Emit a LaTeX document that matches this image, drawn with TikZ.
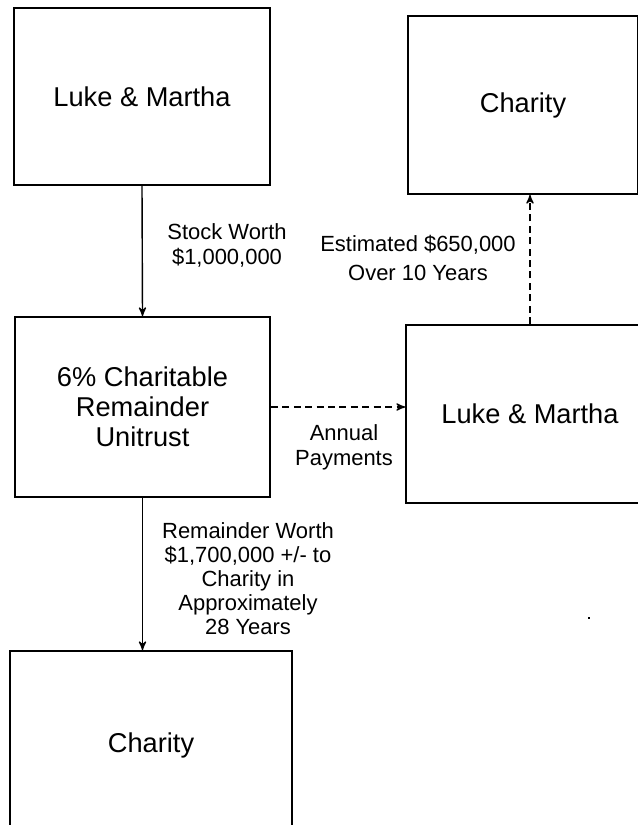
\documentclass[tikz,border=0pt]{standalone}
\usepackage{fontspec}
\setmainfont{Liberation Sans}
\usetikzlibrary{positioning,arrows}
\tikzstyle{block} = [draw, rectangle, line width=1.1pt, inner sep=0pt, align=center, font=\fontsize{15.5}{17}\selectfont]
\tikzstyle{lbl} = [inner sep=0pt, align=center, font=\fontsize{12.5}{14.2}\selectfont]
\tikzstyle{to} = [->,>=stealth',shorten >=0pt,thick]
\tikzstyle{dashline} = [dash pattern=on 4pt off 2.5pt]

\begin{document}
\begin{tikzpicture}[x=0.02cm, y=-0.02cm]
	\useasboundingbox (0,0) rectangle (638,825);
	\clip (0,0) rectangle (638,825);
	% boxes
	\node (lm1) [block, minimum width=5.12cm, minimum height=3.54cm] at (142,96.5) {Luke \& Martha};
	\node (ch1) [block, minimum width=4.6cm, minimum height=3.56cm] at (523,105) {Charity};
	\node (crut) [block, minimum width=5.1cm, minimum height=3.6cm] at (142.5,407) {6\% Charitable\\Remainder\\Unitrust};
	\node (lm2) [block, minimum width=4.96cm, minimum height=3.56cm] at (530,414) {Luke \& Martha};
	\node (ch2) [block, minimum width=5.64cm, minimum height=3.76cm] at (151,745) {Charity};
	% labels
	\node (stock) [lbl] at (227,245) {Stock Worth\\\$1,000,000};
	\node (annual) [lbl] at (344,447) {Annual\\Payments};
	\node (est) [lbl, font=\fontsize{12.5}{17}\selectfont] at (418,258) {Estimated \$650,000\\Over 10 Years};
	\node (rem) [lbl, font=\fontsize{12.5}{13.7}\selectfont] at (248,579) {Remainder Worth\\\$1,700,000 +/- to\\Charity in\\Approximately\\28 Years};
	% connectors
	\draw[to] (lm1.south) -- (crut.north);
	\draw[to] (crut.south) -- (crut.south |- ch2.north);
	\draw[to,dashline] (crut.east) -- (crut.east -| lm2.west);
	\draw[to,dashline] (lm2.north) -- (lm2.north |- ch1.south);
	\fill (588,617) rectangle (590,619);
\end{tikzpicture}
\end{document}
